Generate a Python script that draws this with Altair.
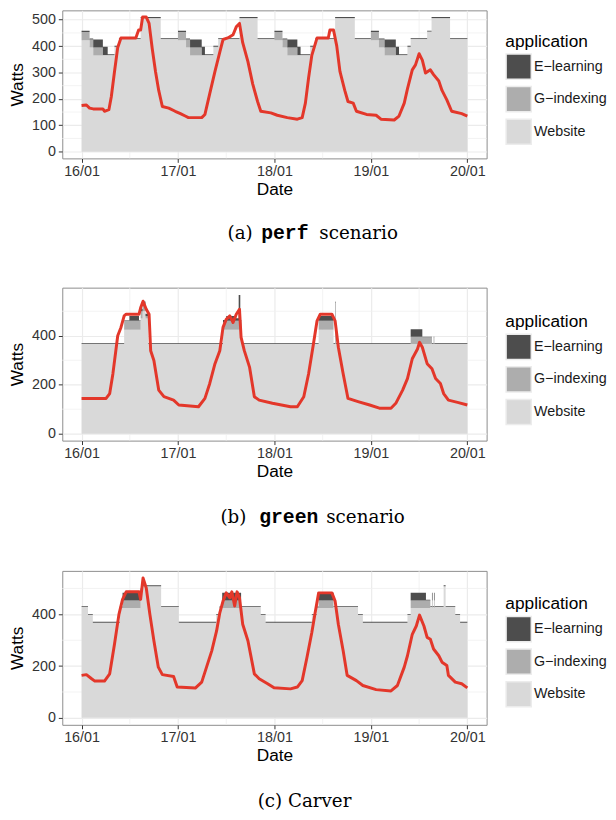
import altair as alt
import pandas as pd

BASE = pd.Timestamp("2015-01-16 00:00:00")

APPS = ["E\u2212learning", "G\u2212indexing", "Website"]
APP_COLORS = ["#4d4d4d", "#adadad", "#d9d9d9"]
RED = "#e3372a"

# ---------------- panel (a): perf scenario ----------------
A_seg_h = [0, 2.0, 2.9, 5.3, 6.5, 8.2, 9.3, 14.7, 19.7,
           24, 26, 27, 29.9, 30.7, 32.8, 34, 39.3, 43.8,
           48, 50, 51.2, 53.7, 54.5, 56.9, 58.2, 63.1, 68,
           72, 74, 75.4, 78.2, 79, 81.1, 81.9, 86, 87.1, 91.7]
A_web = [422, 395, 364, 364, 364, 396, 426, 505, 426,
         422, 395, 364, 364, 364, 396, 426, 505, 426,
         422, 395, 364, 364, 364, 396, 426, 505, 426,
         422, 395, 364, 364, 364, 396, 426, 453, 505, 426]
A_gidx = [31, 30, 31, 2, 2, 2, 2, 2, 2,
          31, 30, 31, 2, 2, 2, 2, 2, 2,
          31, 30, 31, 2, 2, 2, 2, 2, 2,
          31, 30, 31, 2, 2, 2, 2, 2, 2, 2]
A_elearn = [5, 4, 30, 32, 3, 3, 3, 3, 3,
            5, 4, 30, 32, 3, 3, 3, 3, 3,
            5, 4, 30, 32, 3, 3, 3, 3, 3,
            5, 4, 30, 32, 3, 3, 3, 3, 3, 3]
A_line_h = [0.0, 1.2, 2.0, 2.9, 5.3, 5.7, 6.8, 7.4, 8.2, 9.0, 9.8, 13.5, 14.2, 14.7, 15.2,
            16.1, 16.8, 17.6, 18.4, 19.2, 20.1, 21.7, 23.3, 24.6, 25.8, 26.6, 29.9, 30.7,
            31.9, 33.2, 34.4, 35.2, 36.4, 37.7, 38.5, 39.3, 40.1, 41.4, 42.6, 43.8, 44.6,
            47.1, 48.7, 51.2, 53.7, 54.9, 55.7, 56.5, 57.3, 58.6, 61.4, 61.8, 62.7, 63.5,
            64.3, 65.5, 66.3, 67.6, 68.4, 70.9, 73.3, 74.5, 77.8, 79.0, 80.3, 81.1, 82.3,
            83.1, 84.0, 84.8, 85.6, 86.8, 87.6, 88.9, 89.7, 90.9, 92.1, 94.6, 96.0]
A_line_w = [175, 177, 165, 162, 162, 153, 159, 208, 304, 395, 431, 431, 461, 461, 510,
            510, 486, 389, 304, 232, 171, 165, 153, 144, 135, 129, 129, 141,
            220, 304, 377, 425, 431, 443, 473, 486, 413, 341, 256, 190, 153,
            147, 138, 129, 123, 129, 184, 280, 365, 431, 431, 461, 461, 401,
            304, 232, 190, 184, 153, 141, 138, 123, 120, 135, 184, 238, 310,
            329, 371, 347, 298, 310, 292, 268, 232, 196, 153, 144, 135]

# ---------------- panel (b): green scenario ----------------
B_seg_h = [0, 10.6, 11.9, 14.3, 14.7, 15.2, 15.9, 16.6,
           35.2, 36.0, 38.5, 39.1, 39.5, 39.8,
           59.0, 62.7, 63.1, 63.3,
           81.9, 84.8, 87.2, 87.6, 87.8]
B_web = [366, 424, 424, 424, 470, 500, 470, 366,
         424, 424, 424, 424, 424, 366,
         424, 366, 366, 366,
         366, 366, 366, 366, 366]
B_gidx = [1, 37, 37, 37, 30, 20, 10, 1,
          30, 37, 37, 37, 37, 1,
          37, 1, 170, 1,
          30, 28, 1, 28, 1]
B_elearn = [3, 2, 20, 2, 10, 20, 10, 3,
            10, 20, 10, 105, 2, 3,
            20, 3, 3, 3,
            31, 2, 3, 2, 3]
B_line_h = [0, 6.1, 7.0, 7.8, 9.0, 9.8, 10.6, 11.1, 14.3, 14.7, 15.3, 16.1, 16.8, 17.2,
            18.0, 19.2, 20.5, 22.9, 24.2, 29.1, 30.7, 31.9, 33.2, 34.4, 35.2, 36.0, 36.9,
            37.7, 38.5, 39.3, 39.7, 40.5, 41.8, 43.0, 44.2, 47.5, 52.0, 53.7, 55.3, 56.5,
            57.7, 58.6, 59.4, 62.3, 63.1, 63.9, 65.1, 66.3, 68.8, 71.7, 74.1, 77.0, 78.2,
            79.9, 81.1, 82.3, 83.6, 84.1, 84.8, 86.0, 87.2, 88.1, 89.3, 90.1, 91.3, 93.8, 96.0]
B_line_w = [144, 144, 164, 245, 400, 434, 481, 488, 488, 514, 541, 508, 488, 339,
            299, 178, 151, 137, 117, 110, 144, 205, 286, 339, 434, 467, 481,
            454, 488, 508, 393, 339, 272, 151, 137, 124, 110, 110, 151, 245,
            366, 461, 488, 488, 461, 353, 245, 144, 131, 117, 104, 104, 124,
            178, 225, 306, 346, 373, 353, 286, 265, 225, 205, 164, 137, 127, 117]

# ---------------- panel (c): Carver ----------------
C_seg_h = [0, 1.6, 2.8, 9.5, 10.2, 14.7, 15.0, 19.8,
           24.2, 33.5, 34.3, 35.0, 39.7, 44.6, 45.8,
           57.3, 58.5, 59.0, 62.7, 68.8, 70.0,
           81.1, 81.9, 85.7, 86.8, 87.2, 87.35, 87.7, 87.85, 90.1, 90.6, 93.0, 94.2]
C_web = [428, 398, 368, 425, 425, 470, 509, 428,
         368, 398, 425, 425, 428, 398, 368,
         398, 425, 425, 428, 398, 368,
         398, 425, 425, 428, 425, 428, 425, 428, 509, 428, 398, 368]
C_gidx = [0, 0, 0, 2, 29, 20, 0, 0,
          0, 0, 2, 29, 0, 0, 0,
          0, 2, 29, 0, 0, 0,
          0, 29, 29, 0, 29, 0, 29, 0, 0, 0, 0, 0]
C_elearn = [3, 3, 3, 3, 29, 10, 3, 3,
            3, 3, 3, 29, 3, 3, 3,
            3, 3, 29, 3, 3, 3,
            3, 29, 2, 3, 29, 3, 29, 3, 3, 3, 3, 3]
C_line_h = [0, 1.2, 2.5, 3.3, 5.7, 7.0, 8.2, 9.3, 10.2, 11.1, 14.3, 14.7, 15.3, 16.1, 17.0,
            18.0, 19.1, 20.1, 22.9, 23.8, 28.3, 29.9, 31.1, 32.4, 33.6, 34.4, 35.2, 36.0,
            36.9, 37.4, 38.1, 38.7, 39.3, 40.1, 41.4, 43.0, 44.2, 46.3, 47.9, 52.0, 53.7,
            54.9, 56.1, 57.3, 58.2, 59.0, 62.3, 63.1, 63.9, 65.1, 66.1, 68.4, 70.0, 73.3,
            77.0, 78.6, 80.3, 81.1, 82.3, 83.3, 84.1, 85.2, 86.0, 86.8, 87.6, 88.9, 89.7,
            90.9, 91.3, 93.0, 94.6, 96.0]
C_line_w = [164, 167, 151, 142, 142, 170, 285, 400, 458, 487, 487, 458, 541, 502, 400,
            298, 196, 167, 160, 119, 115, 138, 196, 259, 336, 406, 451, 483,
            464, 487, 432, 487, 464, 362, 298, 170, 151, 132, 116, 112, 119,
            144, 234, 330, 413, 483, 483, 451, 362, 259, 164, 144, 125, 109,
            104, 125, 196, 240, 323, 355, 397, 355, 311, 304, 266, 240, 215,
            202, 164, 138, 132, 116]

END_H = 96
MINOR_X_H = [12, 36, 60, 84]
DAYS = [16, 17, 18, 19, 20]

SANS = "Liberation Sans"
SERIF = "DejaVu Serif"
MONO = "Liberation Mono"


def ts(h):
    return (BASE + pd.Timedelta(hours=float(h))).strftime("%Y-%m-%dT%H:%M:%S")


XDOM = [alt.DateTime(year=2015, month=1, date=15, hours=19, minutes=12),
        alt.DateTime(year=2015, month=1, date=20, hours=4, minutes=48)]
XTICKS = [alt.DateTime(year=2015, month=1, date=d) for d in DAYS]


def area_frame(seg_h, web, gidx, elearn):
    hours = list(seg_h) + [END_H]
    w = list(web) + [web[-1]]
    g = list(gidx) + [gidx[-1]]
    e = list(elearn) + [elearn[-1]]
    rows = []
    for h, a, b, c in zip(hours, w, g, e):
        t = ts(h)
        rows.append((t, "Website", a, 0))
        rows.append((t, "G\u2212indexing", b, 1))
        rows.append((t, "E\u2212learning", c, 2))
    return pd.DataFrame(rows, columns=["t", "app", "watts", "ord"])


def panel(seg_h, web, gidx, elearn, line_h, line_w, ydom, yticks, yminor,
          height, legend_y, captions):
    xscale = alt.Scale(type="time", domain=XDOM, nice=False)
    yscale = alt.Scale(domain=ydom, nice=False, zero=False)
    xaxis = alt.Axis(values=XTICKS, format="%d/%m", title="Date", grid=True)
    yaxis = alt.Axis(values=yticks, title="Watts", grid=True)

    gx = alt.Chart(pd.DataFrame({"t": [ts(h) for h in MINOR_X_H]})).mark_rule(
        color="#f0f0f0", strokeWidth=0.8).encode(x=alt.X("t:T", scale=xscale, axis=xaxis))
    gy = alt.Chart(pd.DataFrame({"watts": yminor})).mark_rule(
        color="#f0f0f0", strokeWidth=0.8).encode(y=alt.Y("watts:Q", scale=yscale, axis=yaxis))

    area = alt.Chart(area_frame(seg_h, web, gidx, elearn)).mark_area(
        interpolate="step-after", opacity=1).encode(
        x=alt.X("t:T", scale=xscale, axis=xaxis),
        y=alt.Y("watts:Q", stack="zero", scale=yscale, axis=yaxis),
        color=alt.Color("app:N", scale=alt.Scale(domain=APPS, range=APP_COLORS),
                        legend=alt.Legend(title="application", orient="none",
                                          legendX=449, legendY=legend_y)),
        order=alt.Order("ord:Q", sort="ascending"),
    )

    line = alt.Chart(pd.DataFrame({"t": [ts(h) for h in line_h], "watts": line_w})).mark_line(
        color=RED, strokeWidth=3, strokeJoin="round").encode(
        x=alt.X("t:T", scale=xscale, axis=xaxis),
        y=alt.Y("watts:Q", scale=yscale, axis=yaxis))

    caps = []
    for text, font, size, weight, align, x, y in captions:
        caps.append(
            alt.Chart(pd.DataFrame({"k": [0]})).mark_text(
                text=text, font=font, fontSize=size, fontWeight=weight, align=align,
                baseline="alphabetic", color="#000000").encode(
                x=alt.value(x), y=alt.value(y)))

    return alt.layer(gx, gy, area, line, *caps).properties(width=430, height=height)


pa = panel(A_seg_h, A_web, A_gidx, A_elearn, A_line_h, A_line_w,
           [-25.5, 535.5], [0, 100, 200, 300, 400, 500], [50, 150, 250, 350, 450],
           150, 23,
           [("(a)", SERIF, 18.5, "normal", "right", 193, 232),
            ("perf", MONO, 20, "bold", "center", 225.5, 232),
            ("scenario", SERIF, 18.5, "normal", "left", 260.5, 232)])

pb = panel(B_seg_h, B_web, B_gidx, B_elearn, B_line_h, B_line_w,
           [-28.4, 596.4], [0, 200, 400], [100, 300, 500],
           155, 26,
           [("(b)", SERIF, 18.5, "normal", "right", 186.5, 238),
            ("green", MONO, 20, "bold", "center", 229.5, 238),
            ("scenario", SERIF, 18.5, "normal", "left", 267.5, 238)])

pc = panel(C_seg_h, C_web, C_gidx, C_elearn, C_line_h, C_line_w,
           [-27, 568], [0, 200, 400], [100, 300, 500],
           156, 25,
           [("(c) Carver", SERIF, 18.5, "normal", "center", 245.5, 239)])

chart = alt.vconcat(pa, pb, pc, spacing=43).resolve_scale(
    color="independent", x="independent", y="independent").resolve_legend(
    color="independent").properties(
    padding={"left": 0, "top": -4, "right": 0, "bottom": 0}).configure_axis(
    labelFont=SANS, labelFontSize=14.5, labelColor="#333333",
    titleFont=SANS, titleFontSize=17.5, titleFontWeight="normal", titleColor="#000000",
    tickColor="#333333", tickSize=4, tickWidth=1, domain=False,
    gridColor="#ebebeb", gridWidth=1.2, labelPadding=2,
).configure_axisY(titlePadding=5, labelPadding=3).configure_axisX(titlePadding=3).configure_legend(
    titleFont=SANS, titleFontSize=17.5, titleFontWeight="normal", titleColor="#000000",
    labelFont=SANS, labelFontSize=14.5, labelColor="#1a1a1a",
    symbolType="square", symbolSize=650, symbolStrokeColor="#ececec", symbolStrokeWidth=1.5,
    symbolOpacity=1, rowPadding=0, labelOffset=2, titlePadding=3,
).configure_view(stroke="#8c8c8c", strokeWidth=1)

chart.save("out.html", embed_options={"renderer": "svg", "actions": False})
